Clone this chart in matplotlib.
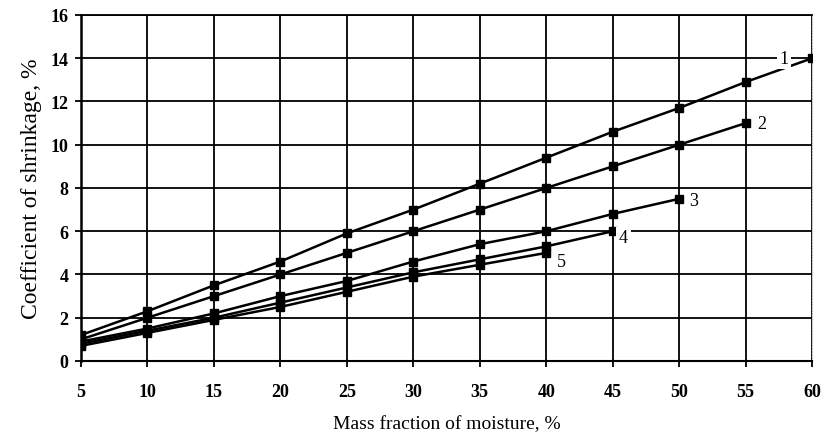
import matplotlib
matplotlib.use("Agg")
from matplotlib import pyplot as plt

# moisture levels (x) and shrinkage curves 1..5
moisture = [5, 10, 15, 20, 25, 30, 35, 40, 45, 50, 55, 60]
curve1 = [1.2, 2.3, 3.5, 4.6, 5.9, 7.0, 8.2, 9.4, 10.6, 11.7, 12.9, 14.0]
curve2 = [1.0, 2.0, 3.0, 4.0, 5.0, 6.0, 7.0, 8.0, 9.0, 10.0, 11.0]
curve3 = [0.9, 1.5, 2.2, 3.0, 3.7, 4.6, 5.4, 6.0, 6.8, 7.5]
curve4 = [0.8, 1.4, 2.0, 2.7, 3.4, 4.1, 4.7, 5.3, 6.0]
curve5 = [0.7, 1.3, 1.9, 2.5, 3.2, 3.9, 4.45, 5.0]
curves = [curve1, curve2, curve3, curve4, curve5]
curve_labels = ["1", "2", "3", "4", "5"]
label_pos = [(57.9, 14.0), (56.2, 11.0), (51.1, 7.4), (45.8, 5.7), (41.1, 4.6)]

xticks = list(range(5, 61, 5))
yticks = list(range(0, 17, 2))

plt.rcParams['font.family'] = ['Liberation Serif', 'DejaVu Serif']

fig = plt.figure(figsize=(8.22, 4.39), dpi=100)
ax = fig.add_axes([0.0985, 0.1754, 0.8895, 0.7882])

for ys in curves:
    ax.plot(moisture[:len(ys)], ys, color='black', lw=1.8, marker='s',
            markersize=6, zorder=3)

for lab, (lx, ly) in zip(curve_labels, label_pos):
    ax.text(lx, ly, lab, fontsize=13, ha='center', va='center', zorder=4,
            bbox=dict(facecolor='white', edgecolor='none', pad=2))

ax.set_xlim(5, 60)
ax.set_ylim(0, 16)
ax.set_xticks(xticks)
ax.set_xticklabels([str(t) for t in xticks], fontsize=13, fontweight='bold')
ax.set_yticks(yticks)
ax.set_yticklabels([str(t) for t in yticks], fontsize=13, fontweight='bold')
ax.grid(True, color='black', lw=1.3)
ax.set_axisbelow(True)

ax.tick_params(axis='x', pad=12, direction='out', length=4, width=1.3)
ax.tick_params(axis='y', pad=5, direction='out', length=4, width=1.3)

ax.spines['left'].set_linewidth(1.8)
ax.spines['bottom'].set_linewidth(1.5)
ax.spines['top'].set_linewidth(1.3)
ax.spines['right'].set_color('#bbbbbb')
ax.spines['right'].set_linestyle(':')

ax.set_xlabel("Mass fraction of moisture, %", fontsize=14, labelpad=11)
ax.set_ylabel("Coefficient of shrinkage, %", fontsize=17, labelpad=6)

fig.savefig("out.png", dpi=100)
